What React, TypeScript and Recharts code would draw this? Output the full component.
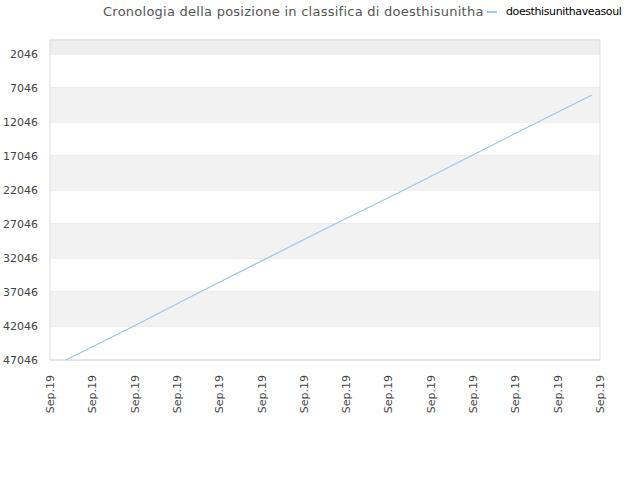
import React from 'react';
import { LineChart, Line, XAxis, YAxis, CartesianGrid, ReferenceArea } from 'recharts';

const title = 'Cronologia della posizione in classifica di doesthisunitha';
const seriesName = 'doesthisunithaveasoul';

// x position measured in tick steps (0..13), value = rank
const xPositions = [0.378, 1.985, 3.545, 6.736, 8.367, 11.534, 12.81];
const ranks = [47046, 42046, 37046, 27046, 22046, 12046, 8075];

const xTicks = [0, 1, 2, 3, 4, 5, 6, 7, 8, 9, 10, 11, 12, 13];
const xTickLabel = 'Sep.19';
const yTicks = [2046, 7046, 12046, 17046, 22046, 27046, 32046, 37046, 42046, 47046];
const bands = [
  [0, 2046, '#eeeeee'],
  [7046, 12046, '#f2f2f2'],
  [17046, 22046, '#f2f2f2'],
  [27046, 32046, '#f2f2f2'],
  [37046, 42046, '#f2f2f2'],
] as const;

const data = xPositions.map((x, i) => ({ x, rank: ranks[i] }));

const font = '"DejaVu Sans", sans-serif';

const XTick = (props: any) => {
  const { x, y } = props;
  return (
    <text
      x={x}
      y={y + 7}
      transform={`rotate(-90, ${x}, ${y + 7})`}
      textAnchor="end"
      dy={4}
      fontSize={11}
      fontFamily={font}
      fill="#444"
    >
      {xTickLabel}
    </text>
  );
};

export default function App() {
  return (
    <div style={{ position: 'absolute', left: 0, top: 0, width: 640, height: 480, background: '#fff' }}>
      <div
        style={{
          position: 'absolute',
          left: 103,
          top: 4,
          fontFamily: font,
          fontSize: 13,
          letterSpacing: 0.25,
          color: '#555',
          whiteSpace: 'nowrap',
        }}
      >
        {title}
      </div>
      <div
        style={{
          position: 'absolute',
          left: 484,
          top: 5,
          display: 'flex',
          alignItems: 'center',
          background: '#fff',
          fontFamily: font,
          fontSize: 11,
          letterSpacing: -0.4,
          color: '#000',
          whiteSpace: 'nowrap',
          paddingLeft: 2,
        }}
      >
        <span style={{ display: 'inline-block', width: 10, height: 2, background: '#9ac6f3', margin: '0 9px 0 1px' }} />
        {seriesName}
      </div>
      <LineChart width={640} height={480} data={data} margin={{ top: 40, right: 40, bottom: 0, left: 0 }}>
        {bands.map(([a, b, c], i) => (
          <ReferenceArea key={i} y1={a} y2={b} fill={c} fillOpacity={1} stroke="none" ifOverflow="hidden" />
        ))}
        <CartesianGrid vertical={false} stroke="#dddddd" />
        <ReferenceArea x1={0} x2={13} y1={0} y2={47046} fill="none" stroke="#dddddd" />
        <XAxis
          dataKey="x"
          type="number"
          domain={[0, 13]}
          ticks={xTicks}
          interval={0}
          height={120}
          axisLine={false}
          tickLine={false}
          tick={<XTick />}
        />
        <YAxis
          type="number"
          reversed
          domain={[0, 47046]}
          ticks={yTicks}
          interval={0}
          width={50}
          axisLine={false}
          tickLine={false}
          tick={{ fontSize: 11, fontFamily: font, fill: '#444' }}
          tickMargin={6}
        />
        <Line
          dataKey="rank"
          stroke="#9ac6f3"
          strokeWidth={1.2}
          dot={false}
          isAnimationActive={false}
        />
      </LineChart>
    </div>
  );
}
